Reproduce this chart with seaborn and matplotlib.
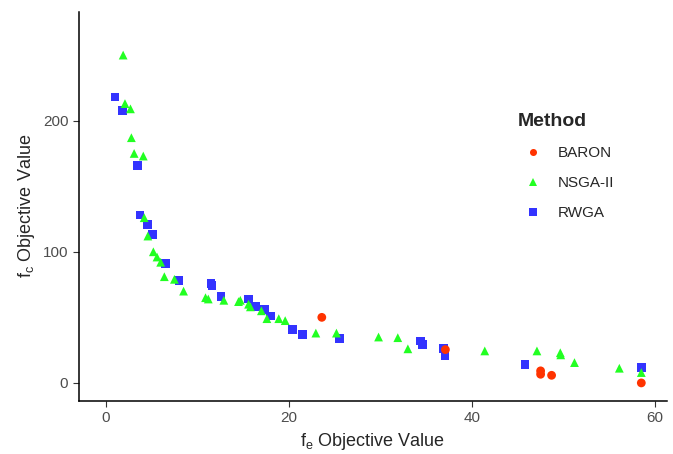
import pandas as pd
import matplotlib.pyplot as plt
import seaborn as sns

# points (f_e, f_c)
baron_fe = [23.6, 37.1, 47.5, 47.5, 48.7, 58.5]
baron_fc = [50, 25.4, 9.2, 6.6, 5.8, 0]

nsga_fe = [1.9, 2.1, 2.7, 2.8, 3.1, 4.1, 4.2, 4.6, 5.2, 5.6, 6.0, 6.4, 7.5, 8.5,
           10.9, 11.2, 12.9, 14.5, 14.7, 15.6, 15.8, 17.0, 17.6, 18.9, 19.6,
           22.95, 25.2, 29.8, 31.9, 33.0, 41.4, 47.1, 49.65, 49.7, 51.2, 56.1, 58.5]
nsga_fc = [250, 213, 209, 187, 175, 173, 126, 112, 100, 96, 92, 81, 79, 70,
           65, 64, 63, 62, 63, 60, 58, 55, 49, 49, 47.5,
           38, 38, 35, 34.5, 26, 24.4, 24.4, 23, 21.4, 15.5, 11.2, 7.9]

rwga_fe = [1.0, 1.8, 3.5, 3.75, 4.6, 5.1, 6.5, 8.0, 11.5, 11.6, 12.6, 15.6, 16.4,
           17.3, 18.0, 20.4, 21.5, 25.5, 34.4, 34.6, 36.9, 37.05, 45.8, 58.5]
rwga_fc = [218, 208, 166, 128, 121, 113, 91, 78, 76, 74, 66, 64, 58,
           56, 51, 41, 37, 33.6, 32, 29.5, 26, 21, 14.3, 11.7]

methods = ['BARON', 'NSGA-II', 'RWGA']
colors = {'BARON': '#FF3300', 'NSGA-II': '#22FF22', 'RWGA': '#3333FF'}
markers = {'BARON': 'o', 'NSGA-II': '^', 'RWGA': 's'}

# RWGA drawn first, BARON on top
df = pd.concat([
    pd.DataFrame({'fe': rwga_fe, 'fc': rwga_fc, 'Method': 'RWGA'}),
    pd.DataFrame({'fe': nsga_fe, 'fc': nsga_fc, 'Method': 'NSGA-II'}),
    pd.DataFrame({'fe': baron_fe, 'fc': baron_fc, 'Method': 'BARON'}),
], ignore_index=True)

sns.set_style('ticks')
plt.rcParams['font.family'] = ['Liberation Sans', 'DejaVu Sans']
plt.rcParams['mathtext.fontset'] = 'custom'
plt.rcParams['mathtext.rm'] = 'Liberation Sans'
plt.rcParams['mathtext.it'] = 'Liberation Sans'

fig = plt.figure(figsize=(6.73, 4.54), dpi=100)
ax = fig.add_axes([0.117, 0.117, 0.874, 0.857])

sns.scatterplot(data=df, x='fe', y='fc', hue='Method', style='Method',
                hue_order=methods, style_order=methods,
                palette=colors, markers=markers, s=40, linewidth=0,
                ax=ax)

ax.set_xlim(-2.95, 61.3)
ax.set_ylim(-13.7, 283)
ax.set_xticks([0, 20, 40, 60])
ax.set_yticks([0, 100, 200])
ax.tick_params(labelsize=11, labelcolor='#4D4D4D', color='#333333', length=4)
for side in ['left', 'bottom']:
    ax.spines[side].set_color('black')
    ax.spines[side].set_linewidth(1.1)
sns.despine(ax=ax)

ax.set_xlabel(r'f$_\mathrm{e}$ Objective Value', fontsize=13)
ax.set_ylabel(r'f$_\mathrm{c}$ Objective Value', fontsize=13)

leg = ax.legend(title='Method', loc='upper left', bbox_to_anchor=(0.723, 0.775),
                frameon=False, fontsize=11, markerscale=0.8,
                handletextpad=0.6, labelspacing=1.05)
leg.get_title().set_fontweight('bold')
leg.get_title().set_fontsize(14)
leg._legend_box.align = 'left'

fig.savefig('out.png', dpi=100)
